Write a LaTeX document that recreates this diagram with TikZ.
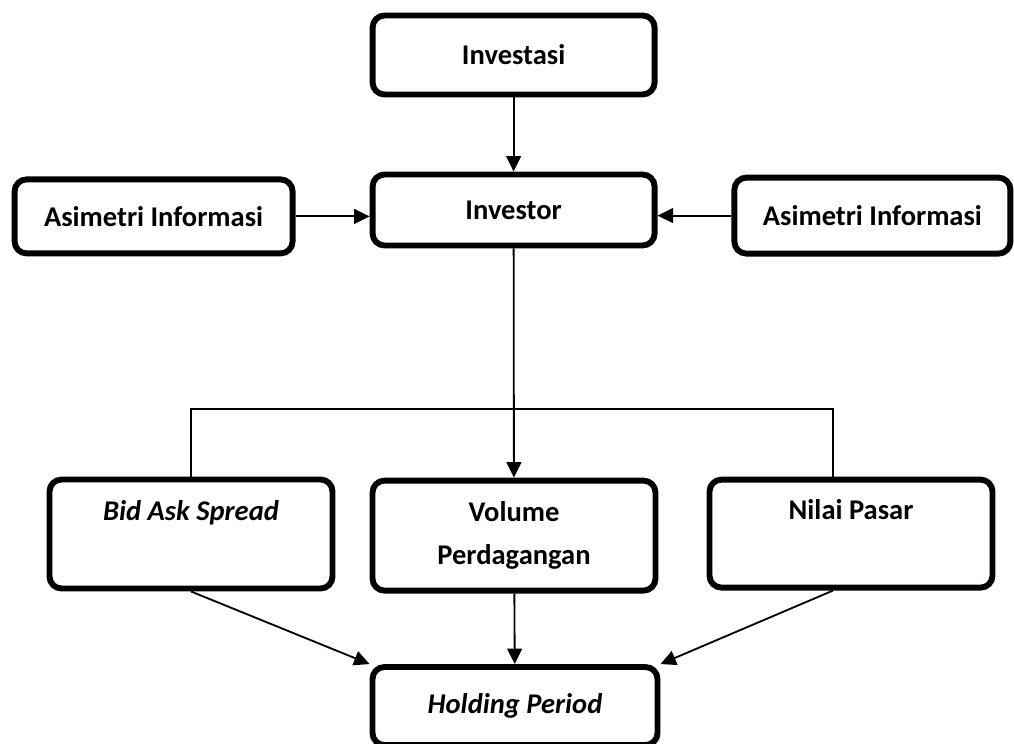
\documentclass[tikz,border=0pt]{standalone}
\usepackage{fontspec}
\setmainfont{Carlito}
\usetikzlibrary{arrows.meta}

\begin{document}
\begin{tikzpicture}[
	kotak/.style={draw, line width=4.2pt, rounded corners=0.3cm, fill=white,
		minimum width=7.05cm, align=center, inner sep=0pt,
		font=\fontsize{20.3pt}{30.5pt}\selectfont\bfseries},
	panah/.style={line width=1.3pt, -{Triangle[length=11pt, width=10.5pt]}},
	garis/.style={line width=1.3pt}]
	\useasboundingbox (0,0) rectangle (25.35,-18.575);
	\node[kotak, minimum height=1.975cm] (investasi) at (12.84,-1.375) {Investasi};
	\node[kotak, minimum height=1.775cm] (investor) at (12.84,-5.25) {Investor};
	\node[kotak, minimum width=6.95cm, minimum height=1.85cm] (asiL) at (3.84,-5.41) {Asimetri Informasi};
	\node[kotak, minimum width=6.9cm, minimum height=1.9cm] (asiR) at (21.81,-5.39) {Asimetri Informasi};
	\node[kotak, minimum width=7.075cm, minimum height=2.725cm] (bid) at (4.775,-13.35) {\textit{Bid Ask Spread}\\ \phantom{Pg}};
	\node[kotak, minimum width=7.075cm, minimum height=2.75cm] (volume) at (12.85,-13.39) {Volume\\Perdagangan};
	\node[kotak, minimum width=7.075cm, minimum height=2.7cm] (nilai) at (21.275,-13.34) {Nilai Pasar\\ \phantom{Pg}};
	\node[kotak, minimum width=7.125cm, minimum height=1.95cm] (holding) at (12.875,-17.65) {\textit{Holding Period}};
	\coordinate (jr) at (20.825,-10.225);
	\draw[panah] (investasi) -- (investor);
	\draw[panah] (asiL.east) -- (asiL.east -| investor.west);
	\draw[panah] (asiR.west) -- (asiR.west -| investor.east);
	\draw[panah] (investor) -- (volume);
	\draw[garis] (bid.north) |- (jr) -- (jr |- nilai.north);
	\draw[panah] (bid.south) -- (holding.north west);
	\draw[panah] (volume) -- (holding);
	\draw[panah] (jr |- nilai.south) -- (holding.north east);
\end{tikzpicture}
\end{document}
